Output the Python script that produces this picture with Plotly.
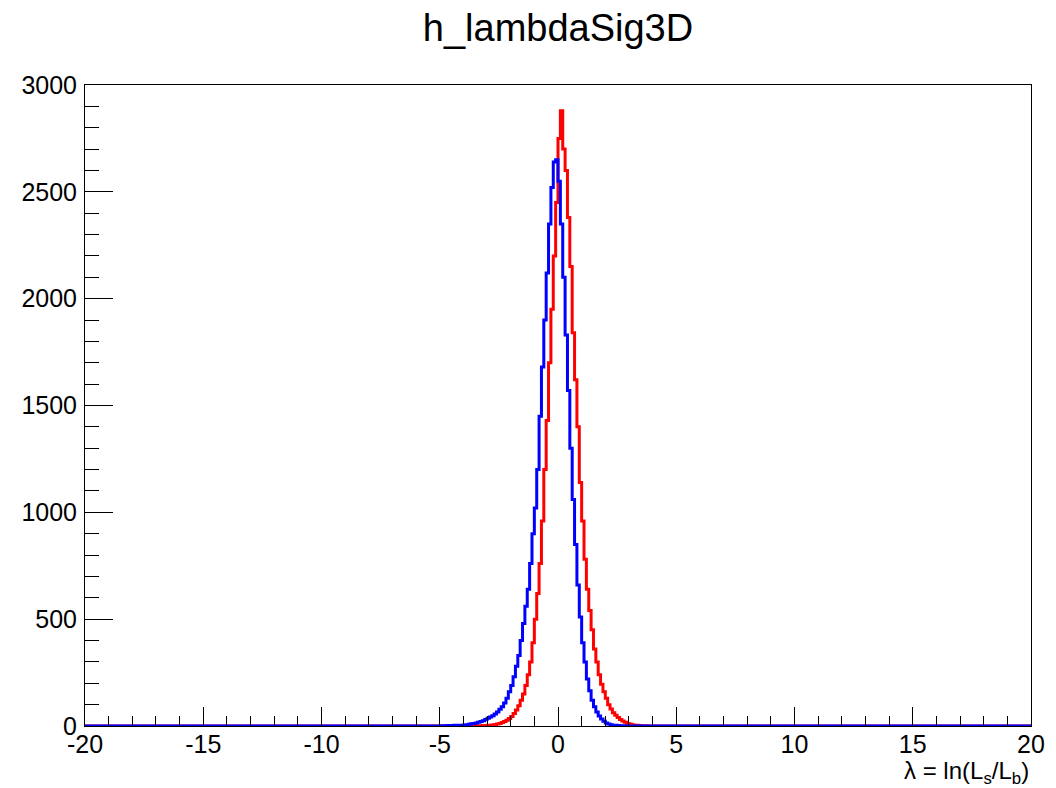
import numpy as np
import plotly.graph_objects as go

# Histogram definition (ROOT TH1: 400 bins on [-20, 20])
N_BINS = 400
X_MIN, X_MAX = -20.0, 20.0

# Red histogram: bin contents starting at bin whose low edge is RED_START
RED_START = -3.5
red_counts = [1, 1, 1, 2, 2, 3, 4, 5, 7, 9, 12, 16, 21, 27, 35, 45, 58, 75, 95, 120,
              150, 190, 240, 300, 390, 500, 620, 760, 960, 1200, 1430, 1700, 1950, 2200,
              2450, 2750, 2880, 2700, 2600, 2380, 2150, 1840, 1620, 1400, 1140, 960, 780,
              640, 540, 450, 360, 300, 240, 195, 160, 130, 100, 80, 62, 50, 40, 30, 23, 17,
              12, 9, 6, 4, 3, 2, 1, 1, 1]

# Blue histogram: bin contents starting at bin whose low edge is BLUE_START
BLUE_START = -5.0
blue_counts = [1, 1, 1, 2, 2, 2, 3, 3, 4, 4, 5, 6, 8, 10, 12, 14, 17, 21, 25, 30,
               36, 42, 48, 56, 66, 78, 90, 108, 130, 160, 190, 230, 280, 330, 400, 480,
               560, 640, 760, 900, 1020, 1200, 1450, 1680, 1900, 2120, 2350, 2520, 2640,
               2650, 2550, 2350, 2100, 1830, 1570, 1300, 1060, 850, 660, 510, 390, 300,
               220, 165, 120, 90, 65, 47, 33, 22, 14, 9, 6, 4, 3, 2, 1, 1]

x_tickvals = [-20, -15, -10, -5, 0, 5, 10, 15, 20]
y_tickvals = [0, 500, 1000, 1500, 2000, 2500, 3000]

edges = np.linspace(X_MIN, X_MAX, N_BINS + 1)
bw = (X_MAX - X_MIN) / N_BINS


def full_hist(start, counts):
    h = np.zeros(N_BINS)
    i0 = int(round((start - X_MIN) / bw))
    h[i0:i0 + len(counts)] = counts
    return h


def step_xy(h):
    xs = list(edges)
    ys = list(h) + [h[-1]]
    return xs, ys


fig = go.Figure()
for counts, start, color in [(red_counts, RED_START, "#ff0000"),
                             (blue_counts, BLUE_START, "#0000ff")]:
    xs, ys = step_xy(full_hist(start, counts))
    fig.add_trace(go.Scatter(x=xs, y=ys, mode="lines", line=dict(color=color, width=3, shape="hv"),
                             showlegend=False, hoverinfo="skip"))

FONT = "Liberation Sans, Arial, Helvetica, sans-serif"

fig.update_layout(
    width=1056, height=788,
    margin=dict(l=85, r=25, t=85, b=62),
    paper_bgcolor="white", plot_bgcolor="white",
    font=dict(family=FONT, color="black", size=25),
    title=dict(text="h_lambdaSig3D", x=(85 + 1031) / 2 / 1056, xanchor="center",
               y=1 - 28 / 788, yanchor="middle", font=dict(size=38, family=FONT)),
)
fig.update_xaxes(
    range=[X_MIN, X_MAX], showgrid=False, zeroline=False,
    showline=True, linecolor="black", linewidth=1, mirror=True,
    ticks="inside", ticklen=19, tickwidth=1, tickcolor="black",
    tickvals=x_tickvals, ticktext=[str(v) for v in x_tickvals],
    minor=dict(ticks="inside", dtick=1, tick0=0, ticklen=10, tickcolor="black", tickwidth=1, showgrid=False),
    tickfont=dict(size=25), ticklabelstandoff=-4,
)
fig.update_yaxes(
    range=[0, 3000], showgrid=False, zeroline=False,
    showline=True, linecolor="black", linewidth=1, mirror=True,
    ticks="inside", ticklen=28, tickwidth=1, tickcolor="black",
    tickvals=y_tickvals, ticktext=[str(v) for v in y_tickvals],
    minor=dict(ticks="inside", dtick=100, tick0=0, ticklen=14, tickcolor="black", tickwidth=1, showgrid=False),
    tickfont=dict(size=25), ticklabelstandoff=2,
)
fig.add_annotation(
    text="λ = ln(L<sub>s</sub>/L<sub>b</sub>)", xref="paper", yref="paper",
    x=1.0, y=-0.045, xanchor="right", yanchor="top", showarrow=False,
    font=dict(size=24, family=FONT),
)

fig.write_html("out.html", config={"displayModeBar": False},
               post_script="document.body.style.margin='0';document.body.style.overflow='hidden';")
